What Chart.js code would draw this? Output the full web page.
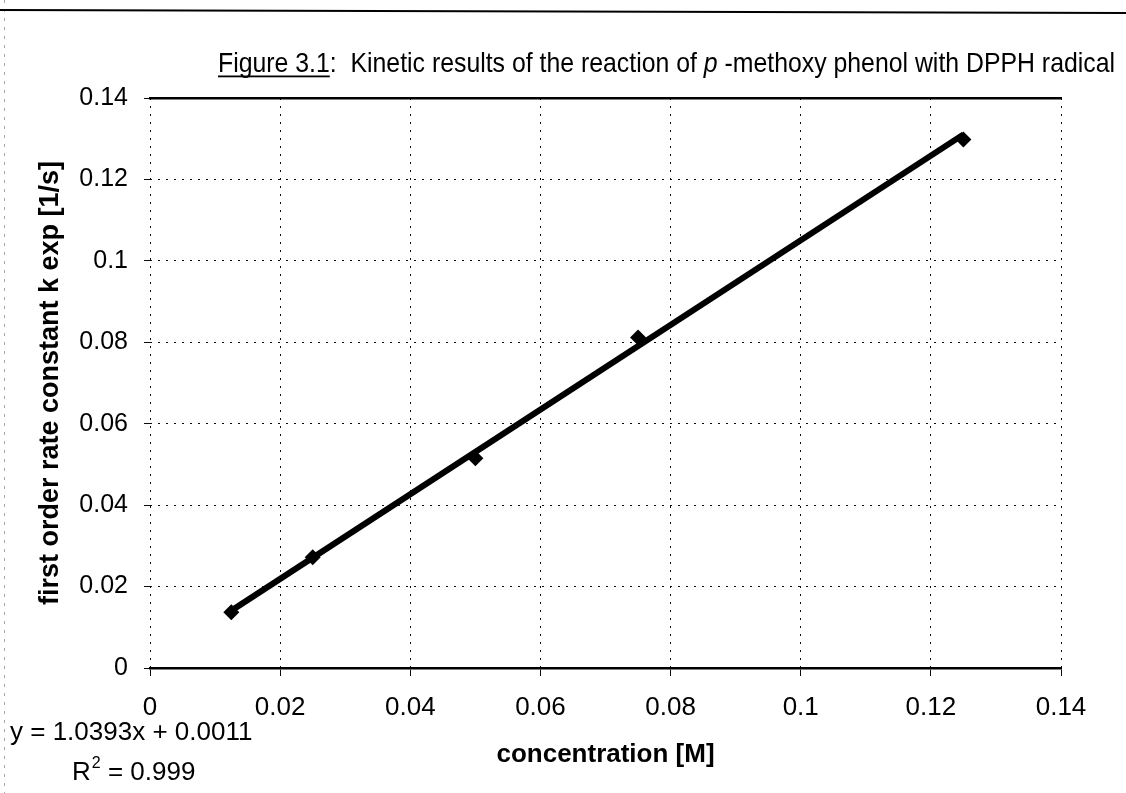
<!DOCTYPE html>
<html>
<head>
<meta charset="utf-8">
<script src="https://cdn.jsdelivr.net/npm/chart.js@4.4.1/dist/chart.umd.min.js"></script>
<style>
  html, body { margin: 0; padding: 0; background: #fff; }
  #wrap { width: 1126px; height: 793px; position: relative; }
</style>
</head>
<body>
<div id="wrap"><canvas id="kinetics" width="1126" height="793"></canvas></div>
<script>
// Measured first-order rate constants vs. p-methoxy phenol concentration
const concentration = [0.0125, 0.025, 0.05, 0.075, 0.125];
const rateConstant = [0.0137, 0.0272, 0.0515, 0.0812, 0.1298];

// Linear trendline y = a x + b over the measured range
const fitSlope = 1.0393;
const fitIntercept = 0.0011;
const fitRSquared = 0.999;
const fitRange = [0.0125, 0.125];

const xTickLabels = ['0', '0.02', '0.04', '0.06', '0.08', '0.1', '0.12', '0.14'];
const yTickLabels = ['0', '0.02', '0.04', '0.06', '0.08', '0.1', '0.12', '0.14'];

const titleParts = [
  { text: 'Figure 3.1', underline: true },
  { text: ':  Kinetic results of the reaction of ' },
  { text: 'p', italic: true },
  { text: ' -methoxy phenol with DPPH radical' }
];
const equationText = 'y = ' + fitSlope + 'x + ' + fitIntercept;

const FONT = '"Liberation Sans", Arial, Helvetica, sans-serif';
const GRID = 'rgba(0,0,0,0.95)';

const pointsData = concentration.map((c, i) => ({ x: c, y: rateConstant[i] }));
const fitData = fitRange.map(c => ({ x: c, y: fitSlope * c + fitIntercept }));

// Page furniture: rule at the top, heading, trendline equation
const decorations = {
  id: 'decorations',
  afterDraw(chart) {
    const ctx = chart.ctx;
    ctx.save();
    // top rule
    ctx.strokeStyle = '#000';
    ctx.lineWidth = 2;
    ctx.beginPath();
    ctx.moveTo(0, 10);
    ctx.lineTo(1126, 13);
    ctx.stroke();
    // faint margin mark on the left
    ctx.strokeStyle = 'rgba(0,0,0,0.35)';
    ctx.lineWidth = 1;
    ctx.setLineDash([3, 6]);
    ctx.beginPath();
    ctx.moveTo(4.5, 0);
    ctx.lineTo(4.5, 793);
    ctx.stroke();
    ctx.setLineDash([]);

    // heading, condensed to its column width
    const size = 28;
    const fontFor = p => (p.italic ? 'italic ' : '') + size + 'px ' + FONT;
    let total = 0;
    titleParts.forEach(p => { ctx.font = fontFor(p); total += ctx.measureText(p.text).width; });
    const left = 218, width = 897, baseline = 72;
    const sx = width / total;
    ctx.translate(left, baseline);
    ctx.scale(sx, 1);
    ctx.fillStyle = '#000';
    ctx.textBaseline = 'alphabetic';
    ctx.textAlign = 'left';
    let x = 0;
    titleParts.forEach(p => {
      ctx.font = fontFor(p);
      const w = ctx.measureText(p.text).width;
      ctx.fillText(p.text, x, 0);
      if (p.underline) {
        ctx.fillRect(x, 3.5, w, 1.8);
      }
      x += w;
    });
    ctx.setTransform(1, 0, 0, 1, 0, 0);

    // trendline equation
    ctx.font = '26px ' + FONT;
    ctx.textBaseline = 'middle';
    ctx.fillText(equationText, 10, 733);
    let rx = 72;
    const ry = 773;
    ctx.fillText('R', rx, ry);
    rx += ctx.measureText('R').width;
    ctx.font = '16px ' + FONT;
    ctx.fillText('2', rx + 1, ry - 9);
    rx += ctx.measureText('2').width + 1;
    ctx.font = '26px ' + FONT;
    ctx.fillText(' = ' + fitRSquared, rx, ry);
    ctx.restore();
  }
};

new Chart(document.getElementById('kinetics'), {
  data: {
    datasets: [
      {
        type: 'scatter',
        data: pointsData,
        pointStyle: 'rectRot',
        pointRadius: 8,
        pointBackgroundColor: '#000',
        pointBorderColor: '#000',
        pointBorderWidth: 0,
        showLine: false,
        order: 2
      },
      {
        type: 'line',
        data: fitData,
        borderColor: '#000',
        borderWidth: 6,
        pointRadius: 0,
        fill: false,
        order: 1
      }
    ]
  },
  options: {
    responsive: false,
    animation: false,
    devicePixelRatio: 1,
    layout: { padding: { left: 0, right: 65, top: 98, bottom: 0 } },
    plugins: {
      legend: { display: false },
      tooltip: { enabled: false }
    },
    scales: {
      x: {
        type: 'linear',
        position: 'bottom',
        min: 0,
        max: 0.14,
        afterFit: s => { s.height = 125; },
        ticks: {
          stepSize: 0.02,
          color: '#000',
          font: { family: FONT, size: 26 },
          padding: 16,
          maxRotation: 0,
          callback: (v, i) => xTickLabels[i]
        },
        grid: {
          color: GRID,
          lineWidth: 1,
          tickLength: 8,
          tickColor: GRID
        },
        border: { display: true, color: '#000', width: 2.5, dash: [2, 6] },
        title: {
          display: true,
          text: 'concentration [M]',
          color: '#000',
          font: { family: FONT, size: 26, weight: 'bold' },
          padding: { top: 0, bottom: 23 }
        }
      },
      xTop: {
        type: 'linear',
        position: 'top',
        min: 0,
        max: 0.14,
        afterFit: s => { s.height = 0; },
        ticks: { display: false },
        grid: { display: false, drawOnChartArea: false, drawTicks: false },
        border: { display: true, color: '#000', width: 2.5 }
      },
      y: {
        type: 'linear',
        position: 'left',
        min: 0,
        max: 0.14,
        afterFit: s => { s.width = 150; },
        ticks: {
          stepSize: 0.02,
          color: '#000',
          font: { family: FONT, size: 25 },
          padding: 16,
          callback: (v, i) => yTickLabels[i]
        },
        grid: {
          color: GRID,
          lineWidth: 1,
          tickLength: 6,
          tickColor: GRID
        },
        border: { display: false, dash: [2, 6] },
        title: {
          display: true,
          text: 'first order rate constant k exp [1/s]',
          color: '#000',
          font: { family: FONT, size: 27, weight: 'bold' },
          padding: { top: 34, bottom: 0 }
        }
      }
    }
  },
  plugins: [decorations]
});
</script>
</body>
</html>
